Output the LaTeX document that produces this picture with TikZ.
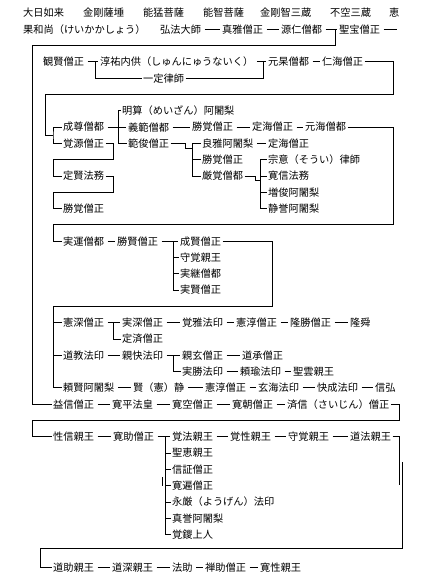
\documentclass[tikz,border=0pt]{standalone}
\usepackage{fontspec}
\newfontfamily\jp{Noto Sans CJK JP}
\newcommand\RR[1]{13+16.3*#1}
\newcommand\nd[4]{\node[nm] (#1) at ({#2-1.5},{\RR{#3}}) {#4};}
\newcommand\cn[2]{\draw[dl] (#1.east)--(#2.west);}
\begin{document}
\begin{tikzpicture}[x=1pt,y=-1pt,
  nm/.style={anchor=west, inner xsep=1.5pt, inner ysep=0pt, font=\jp\fontsize{10.2}{10.2}\selectfont},
  ln/.style={line width=0.85pt, black},
  dl/.style={shorten <=2pt, shorten >=0.5pt}]
\useasboundingbox (0,0) rectangle (434,584);
\fill[white] (0,0) rectangle (434,584);
% row 0-1
\nd{a1}{23}{0}{大日如来}
\nd{a2}{83}{0}{金剛薩埵}
\nd{a3}{143}{0}{能猛菩薩}
\nd{a4}{203}{0}{能智菩薩}
\nd{a5}{260}{0}{金剛智三蔵}
\nd{a6}{330}{0}{不空三蔵}
\nd{a7}{389}{0}{恵}
\nd{b1}{23}{1}{果和尚（けいかかしょう）}
\nd{b2}{160}{1}{弘法大師}
\nd{b3}{222}{1}{真雅僧正}
\nd{b4}{281}{1}{源仁僧都}
\nd{b5}{339}{1}{聖宝僧正}
\coordinate (b5e) at (397,{\RR1});
\coordinate (jb) at (335,{\RR1});
% row 3-4
\nd{c1}{43}{3}{観賢僧正}
\nd{c2}{100}{3}{淳祐内供（しゅんにゅうないく）}
\nd{c3}{268}{3}{元杲僧都}
\nd{c4}{322}{3}{仁海僧正}
\nd{d1}{143}{4}{一定律師}
% rows 6-12
\nd{f0}{122}{6}{明算（めいざん）阿闍梨}
\nd{f1}{63}{7}{成尊僧都}
\nd{f2}{128}{7}{義範僧都}
\nd{f3}{192}{7}{勝覚僧正}
\nd{f4}{252}{7}{定海僧正}
\nd{f5}{305}{7}{元海僧都}
\nd{g1}{63}{8}{覚源僧正}
\nd{g2}{128}{8}{範俊僧正}
\nd{g3}{202}{8}{良雅阿闍梨}
\nd{g4}{268}{8}{定海僧正}
\nd{h1}{202}{9}{勝覚僧正}
\nd{h2}{268}{9}{宗意（そうい）律師}
\nd{i1}{63}{10}{定賢法務}
\nd{i2}{202}{10}{厳覚僧都}
\nd{i3}{268}{10}{寛信法務}
\nd{j1}{268}{11}{増俊阿闍梨}
\nd{k1}{63}{12}{勝覚僧正}
\nd{k2}{268}{12}{静誉阿闍梨}
% rows 14-17
\nd{l1}{63}{14}{実運僧都}
\nd{l2}{117}{14}{勝賢僧正}
\nd{l3}{180}{14}{成賢僧正}
\nd{m1}{180}{15}{守覚親王}
\nd{n1}{180}{16}{実継僧都}
\nd{o1}{180}{17}{実賢僧正}
% rows 19-23
\nd{p1}{63}{19}{憲深僧正}
\nd{p2}{122}{19}{実深僧正}
\nd{p3}{182}{19}{覚雅法印}
\nd{p4}{236}{19}{憲淳僧正}
\nd{p5}{290}{19}{隆勝僧正}
\nd{p6}{350}{19}{隆舜}
\nd{q1}{122}{20}{定済僧正}
\nd{r1}{63}{21}{道教法印}
\nd{r2}{122}{21}{親快法印}
\nd{r3}{182}{21}{親玄僧正}
\nd{r4}{242}{21}{道承僧正}
\nd{s1}{182}{22}{実勝法印}
\nd{s2}{240}{22}{頼瑜法印}
\nd{s3}{293}{22}{聖雲親王}
\nd{t1}{63}{23}{頼賢阿闍梨}
\nd{t2}{133}{23}{賢（憲）静}
\nd{t3}{205}{23}{憲淳僧正}
\nd{t4}{258}{23}{玄海法印}
\nd{t5}{317}{23}{快成法印}
\nd{t6}{375}{23}{信弘}
% row 24
\nd{e1}{53}{24}{益信僧正}
\nd{e2}{112}{24}{寛平法皇}
\nd{e3}{172}{24}{寛空僧正}
\nd{e4}{232}{24}{寛朝僧正}
\nd{e5}{287}{24}{済信（さいじん）僧正}
% rows 26-32
\nd{u1}{53}{26}{性信親王}
\nd{u2}{113}{26}{寛助僧正}
\nd{u3}{172}{26}{覚法親王}
\nd{u4}{230}{26}{覚性親王}
\nd{u5}{288}{26}{守覚親王}
\nd{u6}{350}{26}{道法親王}
\nd{v1}{172}{27}{聖恵親王}
\nd{v2}{172}{28}{信証僧正}
\nd{v3}{172}{29}{寛遍僧正}
\nd{v4}{172}{30}{永厳（ようげん）法印}
\nd{v5}{172}{31}{真誉阿闍梨}
\nd{v6}{172}{32}{覚鑁上人}
% row 34
\nd{w1}{53}{34}{道助親王}
\nd{w2}{112}{34}{道深親王}
\nd{w3}{172}{34}{法助}
\nd{w4}{205}{34}{禅助僧正}
\nd{w5}{260}{34}{寛性親王}

% connectors
\begin{scope}[ln]
\cn{b2}{b3} \cn{b3}{b4} \cn{b4}{b5}
\draw[shorten <=2pt] (b5.east)--(b5e);
\draw (jb) -- (335,{\RR2}) -- (32,{\RR2}) |- (e1.west);
\cn{c1}{c2} \cn{c2}{c3} \cn{c3}{c4}
\draw (95,{\RR3}) |- (d1.west); \draw (d1.east) -| (263,{\RR3});
\draw (c4.east) -- (393,{\RR3}) -- (393,{\RR5}) -- (45,{\RR5}) -- (45,135) -- (53,135);
\draw (f1.west) -| (53,135) |- (g1.west);
\cn{f1}{f2} \cn{f2}{f3} \cn{f3}{f4} \cn{f4}{f5}
\draw (f0.west) -| (118,{\RR8}) -- (g2.west);
\draw (f5.east) -| (393,{\RR13}) -- (53,{\RR13}) |- (l1.west);
\draw (g1.east) -- (113,{\RR8}) -- (113,{\RR9}) -- (53,{\RR9}) |- (i1.west);
\draw (g2.east) -- (185,{\RR8}) -- (185,148) -- (192,148);
\draw (g3.west) -| (192,{\RR10}) -- (i2.west); \draw (192,{\RR9}) -- (h1.west);
\cn{g3}{g4}
\draw (i2.east) -- (255,{\RR10}) -- (255,180) -- (260,180);
\draw (h2.west) -| (260,{\RR12}) -- (k2.west); \draw (260,{\RR10}) -- (i3.west); \draw (260,{\RR11}) -- (j1.west);
\draw (i1.east) -- (113,{\RR10}) -- (113,{\RR11}) -- (53,{\RR11}) |- (k1.west);
\cn{l1}{l2} \cn{l2}{l3}
\draw (173,{\RR14}) |- (o1.west); \draw (173,{\RR15}) -- (m1.west); \draw (173,{\RR16}) -- (n1.west);
\draw (l3.east) -| (272,{\RR18}) -- (53,{\RR18}) |- (t1.west);
\draw (53,{\RR19}) -- (p1.west); \draw (53,{\RR21}) -- (r1.west);
\cn{p1}{p2} \cn{p2}{p3} \cn{p3}{p4} \cn{p4}{p5} \cn{p5}{p6}
\draw (113,{\RR19}) |- (q1.west);
\cn{r1}{r2} \cn{r2}{r3} \cn{r3}{r4}
\draw (173,{\RR21}) |- (s1.west);
\cn{s1}{s2} \cn{s2}{s3}
\cn{t1}{t2} \cn{t2}{t3} \cn{t3}{t4} \cn{t4}{t5} \cn{t5}{t6}
\cn{e1}{e2} \cn{e2}{e3} \cn{e3}{e4} \cn{e4}{e5}
\draw (e5.east) -| (399,{\RR25}) -- (32,{\RR25}) |- (u1.west);
\cn{u1}{u2} \cn{u2}{u3} \cn{u3}{u4} \cn{u4}{u5} \cn{u5}{u6}
\draw (165,{\RR26}) |- (v6.west);
\draw (165,{\RR27}) -- (v1.west); \draw (165,{\RR28}) -- (v2.west); \draw (165,{\RR29}) -- (v3.west);
\draw (165,{\RR30}) -- (v4.west); \draw (165,{\RR31}) -- (v5.west);
\draw (162,477) -- (162,486);
\draw (u6.east) -- (399,{\RR26}) -- (399,485);
\draw (402,462) -- (402,548) -- (40,548) |- (w1.west);
\cn{w1}{w2} \cn{w2}{w3} \cn{w3}{w4} \cn{w4}{w5}
\end{scope}
\end{tikzpicture}
\end{document}
